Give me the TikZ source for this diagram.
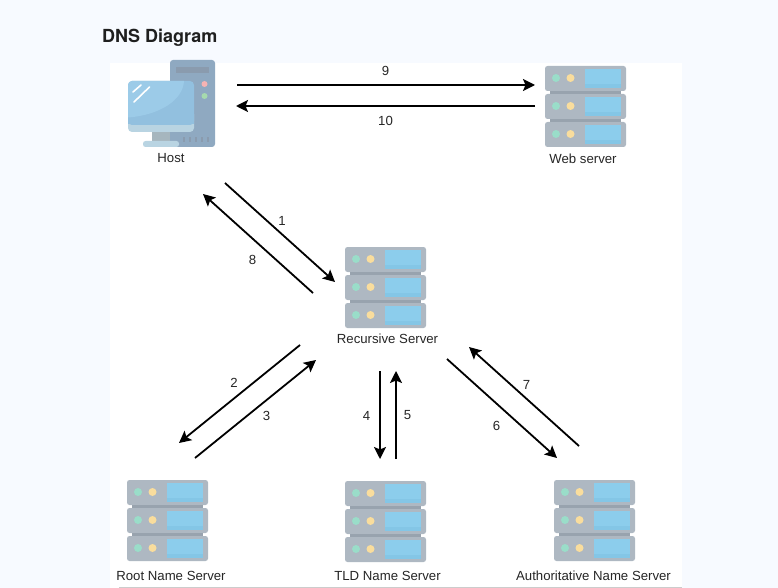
\documentclass[tikz,border=0pt]{standalone}
\usepackage{fontspec}
\setmainfont{Liberation Sans}
\newfontfamily\titlefont{TeX Gyre Heros}
\usetikzlibrary{arrows.meta}
\definecolor{pagebg}{HTML}{F7FAFF}
\definecolor{srvgrey}{HTML}{AEB8C2}
\definecolor{srvdark}{HTML}{98A3AE}
\definecolor{srvblue}{HTML}{8CCDEC}
\definecolor{srvblueb}{HTML}{84C6E6}
\definecolor{srvgreen}{HTML}{9ADDC9}
\definecolor{srvyellow}{HTML}{F9DD9D}
\definecolor{towerc}{HTML}{8FA9C1}
\definecolor{towerd}{HTML}{8A9BAE}
\definecolor{screenl}{HTML}{9CCBE8}
\definecolor{screenm}{HTML}{92C0DF}
\definecolor{screenb}{HTML}{B9D4E2}
\definecolor{neckc}{HTML}{A6B6BE}
\definecolor{ledr}{HTML}{F6B3B3}
\definecolor{ledg}{HTML}{A6DAAE}
\tikzset{
  x=1pt,y=-1pt,
  lbl/.style={font=\fontsize{13.2}{15}\selectfont,text=black!85,inner sep=0pt},
  num/.style={font=\fontsize{13.2}{15}\selectfont,text=black!85,inner sep=0pt},
  link/.style={draw=black,line width=1.8pt,-{Stealth[length=12pt,width=12pt,inset=2.5pt]}},
  server/.pic={
    \foreach \y in {0,28,56}{
      \fill[srvgrey,rounded corners=2.5pt] (0,\y) rectangle (81,\y+25);
      \fill[srvblue] (40,\y+3) rectangle (76,\y+18);
      \fill[srvblueb] (40,\y+18) rectangle (76,\y+22);
      \fill[srvgreen] (11,\y+12) circle (4pt);
      \fill[srvyellow] (25.5,\y+12) circle (4pt);
    }
    \fill[srvdark] (5,25) rectangle (76,28);
    \fill[srvdark] (5,53) rectangle (76,56);
  }
}
\begin{document}
\begin{tikzpicture}
\useasboundingbox (0,0) rectangle (778,588);
\fill[pagebg] (0,0) rectangle (778,588);
\fill[white] (110,63) rectangle (682,588);
\fill[black!20] (119,587) rectangle (682,588);
\node[anchor=west,inner sep=0pt,text=black!88] (title) at (102,37.5) {\titlefont\fontsize{18}{20}\selectfont\bfseries DNS Diagram};
% host icon
\fill[towerc,rounded corners=3pt] (170,60) rectangle (215,147);
\fill[towerd] (176,67.5) rectangle (209,73);
\fill[ledr] (204.5,84) circle (3pt);
\fill[ledg] (204.5,96) circle (3pt);
\foreach \x in {184,190,196,202,208}{\fill[towerd] (\x-1,137.5) rectangle (\x+1,142.5);}
\fill[neckc] (152,131) rectangle (170,142);
\fill[screenb,rounded corners=4pt] (128,110) rectangle (194,132);
\fill[screenm,rounded corners=4pt] (128,81) rectangle (194,125);
\fill[screenm] (128,110) rectangle (194,124.5);
\begin{scope}
  \clip[rounded corners=4pt] (128,81) rectangle (194,125);
  \fill[screenl] (128,81) -- (184,81) .. controls (183,100) and (160,115) .. (128,117.5) -- cycle;
\end{scope}
\draw[white,line width=1.6pt,line cap=round] (133,92) -- (141,85);
\draw[white,line width=1.6pt,line cap=round] (134,102) -- (149.5,87);
\fill[screenb,rounded corners=2.5pt] (143,141) rectangle (179,147);
\node[lbl] (host) at (171,158.5) {Host};
% servers
\path (545,66) pic {server};
\node[lbl] (web) at (583,158.5) {Web server};
\path (345,247) pic {server};
\node[lbl] (rec) at (387.5,338.5) {Recursive Server};
\path (127,480) pic {server};
\node[lbl] (root) at (171,576) {Root Name Server};
\path (345,481) pic {server};
\node[lbl] (tld) at (387.5,576) {TLD Name Server};
\path (554,480) pic {server};
\node[lbl] (auth) at (593.5,576) {Authoritative Name Server};
% connector ends
\coordinate (a9) at (237,85);   \coordinate (b9) at (535,85);
\coordinate (a10) at (535,106); \coordinate (b10) at (236,106);
\coordinate (a1) at (225,183);  \coordinate (b1) at (335,282);
\coordinate (a8) at (313,293);  \coordinate (b8) at (203,194);
\coordinate (a2) at (300,345);  \coordinate (b2) at (179,443);
\coordinate (a3) at (195,458);  \coordinate (b3) at (316,360);
\coordinate (a4) at (380,371);  \coordinate (b4) at (380,459);
\coordinate (a5) at (396,459);  \coordinate (b5) at (396,371);
\coordinate (a6) at (447,359);  \coordinate (b6) at (557,458);
\coordinate (a7) at (579,446);  \coordinate (b7) at (469,347);
\foreach \n in {1,...,10}{\draw[link] (a\n) -- (b\n);}
\node[num] (n9) at (385.5,71) {9};
\node[num] (n10) at (385.5,121) {10};
\node[num] (n1) at (282,221) {1};
\node[num] (n8) at (252.5,260) {8};
\node[num] (n2) at (234,383) {2};
\node[num] (n3) at (266.5,415.5) {3};
\node[num] (n4) at (366.5,415.5) {4};
\node[num] (n5) at (407.5,415.5) {5};
\node[num] (n6) at (496.5,425.5) {6};
\node[num] (n7) at (526.5,385) {7};
\end{tikzpicture}
\end{document}
